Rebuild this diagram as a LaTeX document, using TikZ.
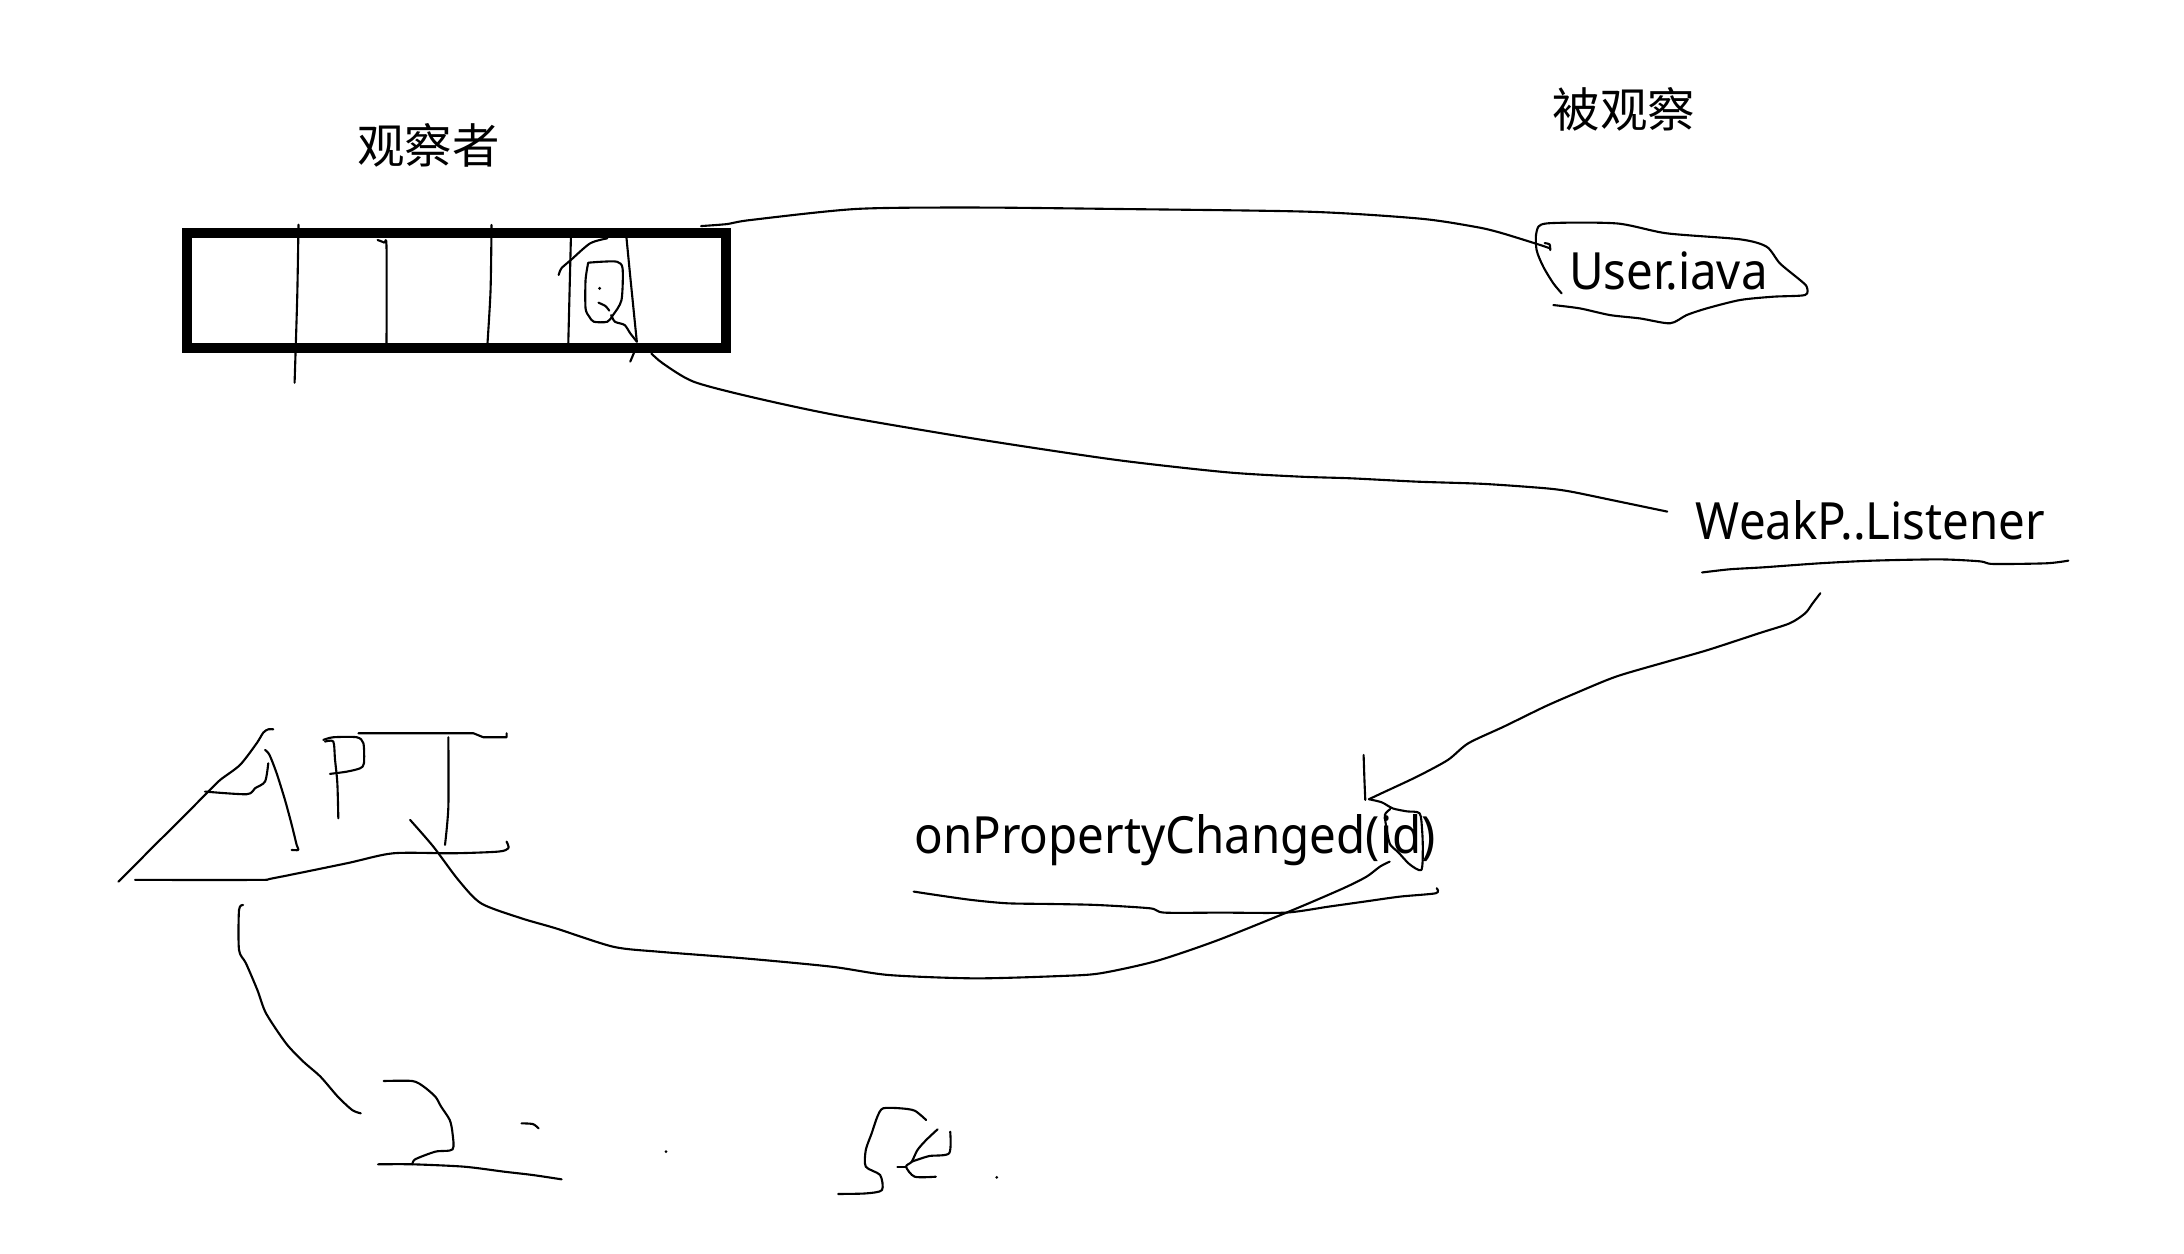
\documentclass[tikz,border=0pt]{standalone}
\usepackage{fontspec}
\setmainfont{Noto Sans}
\newfontfamily\cjk{Noto Sans CJK SC}
\newcommand{\narrowtxt}[1]{\scalebox{0.925}[1]{#1}}
\begin{document}
\begin{tikzpicture}[x=0.013929cm,y=-0.013929cm,
  ink/.style={line width=0.6pt,line cap=round,line join=round},
  sm/.style={ink,smooth,tension=0.45},
  txt/.style={font=\fontsize{14.6}{16}\selectfont,inner sep=0pt,anchor=base west},
  cjktxt/.style={font=\cjk\fontsize{13.5}{15}\selectfont,inner sep=0pt},
  arraybox/.style={draw,line width=2.85pt,inner sep=0pt,minimum width=5.39cm,minimum height=1.142cm}]
\useasboundingbox[fill=white] (0,0) rectangle (1568,900);

% labels
\node[cjktxt] (obs) at (307.5,104.7) {观察者};
\node[cjktxt] (subj) at (1166,78.4) {被观察};
\node[txt] (user) at (1126,208) {\narrowtxt{User.iava}};
\node[txt] (weak) at (1217,387) {\narrowtxt{WeakP..Listener}};
\node[txt] (onprop) at (656,612.6) {\narrowtxt{onPropertyChanged(id)}};

% observer array
\node[arraybox] (arr) at (327.5,208.5) {};
\draw[sm] plot coordinates {(214.3,161.3) (213.4,213) (211.5,274.8)};
\draw[sm] plot coordinates {(271.1,172.3) (275.8,174.2) (277.5,177.1) (277.5,246.5)};
\draw[sm] plot coordinates {(352.9,161.5) (352.2,208.2) (350,246.5)};
\draw[ink] (409.9,169.9) -- (408,246.5);
\draw[sm] plot coordinates {(449.7,169.9) (452.5,198.6) (457.2,245.3)};
\draw[ink] (455.2,253.2) -- (452.5,259.6);
\draw[sm] plot coordinates {(401.1,197.4) (403.1,192.6) (409.9,186.6) (423.7,174.7) (436,171.1)};
% Q-like mark
\draw[sm] plot coordinates {(422.3,188.6) (432,187.9) (442.9,187.9) (447,192.7) (446.2,215.4) (440.1,226.2) (436,231) (426.4,231) (423.1,227.4) (420.4,221.4) (420.4,201) (422.3,188.6)};
\fill (430.5,207) circle (1.2);
\draw[sm] plot coordinates {(429.7,217.3) (434.7,219.7) (437.4,223)};
\draw[sm] plot coordinates {(438.8,226.2) (441.5,231) (448.4,233.3) (452.5,239.3) (457.2,245.3)};

% User.iava outline
\draw[sm] plot coordinates {(1121.2,210.6) (1115.2,203.4) (1108,191.5) (1103.2,179.5) (1103.2,166.3) (1110.4,160.4) (1160.7,160.4) (1196.6,167.5) (1249.2,171.8) (1268.3,177.1) (1277.9,189.1) (1292.3,201) (1297.1,205.8) (1295.9,211.8) (1273.1,213) (1249.2,215.4) (1225.3,221.4) (1210.9,226.2) (1199,232.1) (1177.4,228.6) (1155.9,226.2) (1134.3,221.4) (1115.2,219)};
\draw[sm] plot coordinates {(1109,174.5) (1112.5,175.5) (1113,179.5)};

% connector: array -> User.iava
\coordinate (a1) at (503.3,162.3);
\coordinate (u1) at (1112,178);
\draw[sm] plot coordinates {(a1) (522.6,160.8) (538.5,158) (615,150) (700,149) (800,150) (940,152) (1020,157) (1060,163) (1077,167) (1103,175) (u1)};

% connector: array -> WeakP..Listener
\coordinate (a2) at (467.6,253.7);
\coordinate (w1) at (1197,367.3);
\draw[sm] plot coordinates {(a2) (475.9,260.9) (497.9,274) (538.5,284.8) (600,298) (700,315) (800,330) (880,339) (933.3,342.2) (970,343.4) (1017.5,345.8) (1065.2,347.4) (1109.1,350.5) (1127.5,352.9) (1156.7,358.9) (w1)};

% underline WeakP..Listener
\draw[sm] plot coordinates {(1222,411) (1242,408.7) (1266,407.3) (1306.6,404.4) (1344.9,402.5) (1392.7,401.6) (1421.5,403) (1431,404.9) (1469.3,404.4) (1485,402.5)};

% arrow WeakP -> onPropertyChanged
\coordinate (w2) at (1306.9,425.9);
\coordinate (tip) at (982.8,573.8);
\draw[sm] plot coordinates {(w2) (1301.4,433.1) (1296,440.3) (1284.9,447.5) (1263,454.6) (1226.3,466.6) (1197,475) (1160.4,485.7) (1131.1,497.7) (1109.1,507.3) (1079.8,521.6) (1054.2,533.6) (1039.5,545.6) (1017.5,557.5) (991.9,569.5) (tip)};
\draw[sm] plot coordinates {(979,542) (979.6,560) (980.2,574.3)};
% loop around (id)
\draw[sm] plot coordinates {(tip) (992,576) (1000,580.4) (1010,582.5) (1019.2,583.9) (1021,596) (1021.5,610) (1020.4,624.6) (1012,620.5) (1004,612) (997.9,606) (995.5,595) (994.3,585) (998,581)};

% underline onPropertyChanged
\draw[sm] plot coordinates {(656,640.1) (671.8,642.5) (697.4,646.1) (723,648.5) (753.8,649) (787.1,649.7) (825.6,652.1) (835.9,655.2) (877,655.2) (923.1,655.2) (953.9,650.9) (979.5,647.3) (1005.2,643.7) (1030.8,641.3) (1031.5,637.7)};

% big lower curve from API to (id)
\coordinate (api) at (294.4,588.6);
\coordinate (id) at (997.7,618.6);
\draw[sm] plot coordinates {(api) (311.1,607.8) (329.1,631.8) (345.5,648.6) (374.4,659.3) (399.1,666.5) (440.3,679.7) (473.3,683.3) (535.1,688.1) (596.9,694) (638.1,700) (700,702.4) (761.8,700.7) (789.8,698.8) (830,690) (874.3,675) (928.2,653.3) (964.5,637.7) (981.1,629.4) (990.7,622.2) (id)};

% hand-written "API"
\draw[sm] plot coordinates {(85,633) (95,623) (110.1,607.8) (128,590) (148.4,569.5) (158,560) (172.3,549.2) (184.3,533.6) (189,526) (192.6,523.6) (196.2,523.6)};
\draw[sm] plot coordinates {(190.3,538.4) (193.5,542) (198.6,555.1) (204.6,574.3) (209.4,592) (213,606.6) (214.2,610.2) (209.4,610.2)};
\draw[sm] plot coordinates {(147.2,568.3) (177.1,570.2) (183.1,565.9) (190.3,561.1) (192.6,548)};
\draw[sm] plot coordinates {(233.3,532.4) (239.3,532.4) (240.5,545) (242.2,562.3) (242.9,587.5)};
\draw[sm] plot coordinates {(232.1,531.2) (239.3,529.3) (256.1,529.3) (260.9,533.6) (261.3,548) (258.5,551.6) (248.9,554) (236.9,555.6)};
\draw[ink] (257.3,526.4) -- (339.8,526.4) -- (347,529.3) -- (363.7,529.3) -- (363.7,526.4);
\draw[sm] plot coordinates {(321.9,529.3) (321.9,579.1) (319.5,606.6)};
\draw[sm] plot coordinates {(363.7,604.2) (365,609) (357.8,611.4) (325.5,612.6) (282.4,612.6) (248.9,619.8) (196.2,630.5) (184.3,631.7) (97,631.7)};

% lower-left scribbles
\draw[sm] plot coordinates {(174.5,649.7) (171.6,653.3) (171.6,682) (176.6,691.6) (184.8,710.8) (191,727.5) (205.4,749.1) (217.8,762.2) (230.1,773) (242.5,787.3) (252.8,796.9) (259,799.3)};
\draw[sm] plot coordinates {(275.5,776.1) (296.1,776.1) (304.3,780.2) (312.6,787.4) (316.7,794.5) (322.9,804.1) (324.9,813.7) (324.9,825.2) (312.6,826.8) (298.1,832.3) (296.1,835.9)};
\draw[sm] plot coordinates {(271.4,835.9) (296.1,835.9) (333.2,837.6) (362,841.2) (382.6,843.6) (403.2,846.7)};
\draw[sm] plot coordinates {(374.4,806.5) (382.6,807) (386.7,810.1)};
\fill (478.2,826.8) circle (1.1);
\fill (715.6,845.3) circle (1.1);
\draw[sm] plot coordinates {(664.9,804.1) (656.7,797.4) (646.4,795.7) (634,795.7) (629.9,801.7) (625.8,813.7) (621.6,825.6) (621.6,837.6) (631.9,843.6) (633.2,854.4) (621.6,856.8) (601.8,857.2)};
\draw[sm] plot coordinates {(673.1,810.8) (664.9,818.5) (658.7,825.6) (654.6,834) (650.5,837.6) (656.7,844.8) (671.9,844.8)};
\draw[ink] (644.3,837.6) -- (650.5,837.6);
\draw[sm] plot coordinates {(654.6,834) (667,830) (681.4,828) (682.2,812.5)};
\end{tikzpicture}
\end{document}
